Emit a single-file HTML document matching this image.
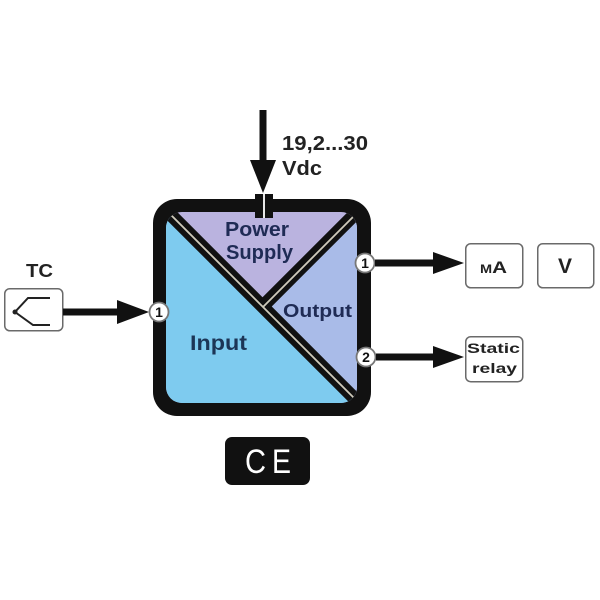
<!DOCTYPE html>
<html>
<head>
<meta charset="utf-8">
<style>
  html,body{margin:0;padding:0;background:#fff;width:600px;height:600px;overflow:hidden;}
  svg{display:block;}
  text{font-family:"Liberation Sans", Arial, sans-serif;}
</style>
</head>
<body>
<svg width="600" height="600" viewBox="0 0 600 600" xmlns="http://www.w3.org/2000/svg">
  <rect x="0" y="0" width="600" height="600" fill="#ffffff"/>
  <defs>
    <clipPath id="inner">
      <rect x="166" y="212" width="191" height="191" rx="16" ry="16"/>
    </clipPath>
  </defs>

  <!-- Main box outer -->
  <rect x="153" y="199" width="218" height="217" rx="24" ry="24" fill="#111"/>

  <!-- Inner regions -->
  <g clip-path="url(#inner)">
    <rect x="160" y="205" width="205" height="205" fill="#bab3df"/>
    <polygon points="160,204 370,414 160,414" fill="#7ecbef"/>
    <polygon points="262.5,306.5 370,199 370,414" fill="#a9bbe8"/>
    <line x1="160" y1="204" x2="370" y2="414" stroke="#111" stroke-width="13"/>
    <line x1="262.5" y1="306.5" x2="370" y2="199" stroke="#111" stroke-width="13"/>
    <line x1="160" y1="204" x2="370" y2="414" stroke="#cfcbbb" stroke-width="1.8"/>
    <line x1="263" y1="307" x2="370" y2="200" stroke="#cfcbbb" stroke-width="1.8"/>
  </g>

  <!-- Power connector -->
  <rect x="255" y="194" width="18" height="24" fill="#111"/>
  <rect x="263" y="194" width="2" height="24" fill="#e8e8e8"/>

  <!-- Vertical arrow -->
  <rect x="259.5" y="110" width="7" height="55" fill="#111"/>
  <polygon points="250,160 276,160 263,193" fill="#111"/>

  <!-- Supply text -->
  <text x="282" y="150" font-size="20" font-weight="bold" fill="#222" textLength="86" lengthAdjust="spacingAndGlyphs">19,2...30</text>
  <text x="282" y="175" font-size="20" font-weight="bold" fill="#222" textLength="40" lengthAdjust="spacingAndGlyphs">Vdc</text>

  <!-- Region labels -->
  <text x="225" y="236" font-size="20" font-weight="bold" fill="#1f2b55" textLength="64" lengthAdjust="spacingAndGlyphs">Power</text>
  <text x="226" y="259" font-size="20" font-weight="bold" fill="#1f2b55" textLength="67" lengthAdjust="spacingAndGlyphs">Supply</text>
  <text x="283" y="317" font-size="18" font-weight="bold" fill="#1f2b55" textLength="69" lengthAdjust="spacingAndGlyphs">Output</text>
  <text x="190" y="350" font-size="21" font-weight="bold" fill="#1c3556" textLength="57" lengthAdjust="spacingAndGlyphs">Input</text>

  <!-- TC sensor -->
  <text x="26" y="277" font-size="18" font-weight="bold" fill="#222" textLength="27" lengthAdjust="spacingAndGlyphs">TC</text>
  <rect x="4.75" y="288.75" width="58" height="42" rx="5" ry="5" fill="#fff" stroke="#6a6a6a" stroke-width="1.5"/>
  <polyline points="50,298 28,298 15,312 33,325 50,325" fill="none" stroke="#222" stroke-width="2"/>
  <circle cx="15" cy="312" r="2.5" fill="#222"/>

  <!-- TC arrow -->
  <rect x="63" y="308.5" width="57" height="7" fill="#111"/>
  <polygon points="117,300 149,312 117,324" fill="#111"/>

  <!-- Left terminal circle -->
  <circle cx="159" cy="312" r="9.5" fill="#fff" stroke="#777" stroke-width="1.8"/>
  <text x="159" y="317" font-size="14" font-weight="bold" fill="#111" text-anchor="middle">1</text>

  <!-- Right terminals -->
  <circle cx="365" cy="263" r="9.5" fill="#fff" stroke="#777" stroke-width="1.8"/>
  <text x="365" y="268" font-size="14" font-weight="bold" fill="#111" text-anchor="middle">1</text>
  <circle cx="366" cy="357" r="9.5" fill="#fff" stroke="#777" stroke-width="1.8"/>
  <text x="366" y="362" font-size="14" font-weight="bold" fill="#111" text-anchor="middle">2</text>

  <!-- Output arrows -->
  <rect x="375" y="259.5" width="61" height="7" fill="#111"/>
  <polygon points="433,252 464,263 433,274" fill="#111"/>
  <rect x="376" y="353.5" width="60" height="7" fill="#111"/>
  <polygon points="433,346 464,357 433,368" fill="#111"/>

  <!-- Output boxes -->
  <rect x="465.75" y="243.75" width="57" height="44" rx="5" ry="5" fill="#fff" stroke="#6a6a6a" stroke-width="1.5"/>
  <text x="480" y="273" font-size="17" font-weight="bold" fill="#222" font-variant="small-caps" textLength="27" lengthAdjust="spacingAndGlyphs">mA</text>
  <rect x="537.75" y="243.75" width="56" height="44" rx="5" ry="5" fill="#fff" stroke="#6a6a6a" stroke-width="1.5"/>
  <text x="565" y="273" font-size="21" font-weight="bold" fill="#222" text-anchor="middle">V</text>
  <rect x="465.75" y="336.75" width="57" height="45" rx="5" ry="5" fill="#fff" stroke="#6a6a6a" stroke-width="1.5"/>
  <text x="467" y="353" font-size="14" font-weight="bold" fill="#222" textLength="53" lengthAdjust="spacingAndGlyphs">Static</text>
  <text x="472" y="373" font-size="14" font-weight="bold" fill="#222" textLength="45" lengthAdjust="spacingAndGlyphs">relay</text>

  <!-- CE mark -->
  <rect x="225" y="437" width="85" height="48" rx="7" ry="7" fill="#111"/>
  <text x="245" y="473" font-size="34" fill="#fff" textLength="21" lengthAdjust="spacingAndGlyphs">C</text>
  <text x="272" y="473" font-size="34" fill="#fff" textLength="19" lengthAdjust="spacingAndGlyphs">E</text>
</svg>
</body>
</html>
